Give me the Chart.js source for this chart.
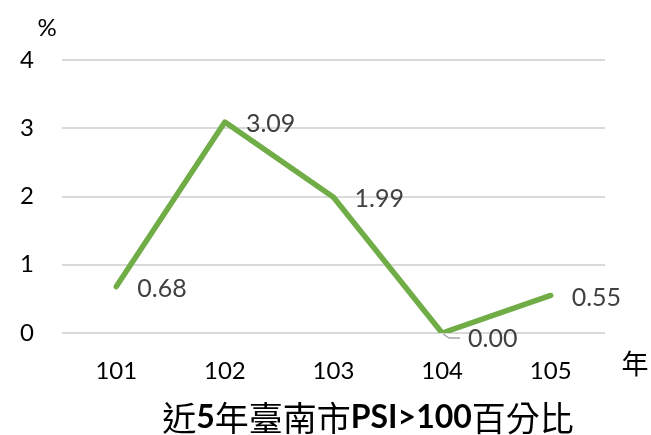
<!DOCTYPE html>
<html><head><meta charset="utf-8">
<script src="https://cdn.jsdelivr.net/npm/chart.js@4"></script>
<style>html,body{margin:0;padding:0;background:#fff}canvas{display:block}</style>
</head><body>
<canvas id="c" width="651" height="435"></canvas>
<script>
const categories = ['101','102','103','104','105'];
const psiPercent = [0.68, 3.09, 1.99, 0.00, 0.55];
const yTicks = [0,1,2,3,4];
const yUnit = '%';
const xUnit = '年';
const titleParts = [['近',0],['5',1],['年臺南市',0],['PSI>100',1],['百分比',0]];

const LATIN = 'Lato, "Liberation Sans", sans-serif';
const CJK = '"Noto Sans CJK TC", "Noto Sans CJK SC", sans-serif';

const extras = {
  id:'extras',
  afterDatasetsDraw(chart){
    const ctx = chart.ctx;
    const meta = chart.getDatasetMeta(0);
    ctx.save();
    ctx.font = '25px ' + LATIN;
    ctx.fillStyle = '#404040';
    ctx.textAlign = 'left';
    ctx.textBaseline = 'middle';
    meta.data.forEach((pt, i) => {
      const v = psiPercent[i];
      let dx = 21, dy = 2;
      if (v === 0) {
        dx = 26; dy = 6;
        ctx.strokeStyle = '#a6a6a6';
        ctx.lineWidth = 1.5;
        ctx.beginPath();
        ctx.moveTo(pt.x + 1, pt.y + 1);
        ctx.lineTo(pt.x + 7, pt.y + 5);
        ctx.lineTo(pt.x + 18, pt.y + 5);
        ctx.stroke();
      }
      ctx.fillText(v.toFixed(2), pt.x + dx, pt.y + dy);
    });
    ctx.restore();
  },
  afterDraw(chart){
    const ctx = chart.ctx;
    ctx.save();
    ctx.fillStyle = '#000';
    ctx.textBaseline = 'middle';
    ctx.textAlign = 'center';
    ctx.font = '24px ' + LATIN;
    ctx.fillText(yUnit, 47, 28);
    ctx.font = '27px ' + CJK;
    ctx.fillText(xUnit, 635, 364);
    // title
    const fonts = ['34px ' + CJK, 'bold 32px ' + LATIN];
    let total = 0;
    const widths = titleParts.map(([t,b]) => { ctx.font = fonts[b]; const w = ctx.measureText(t).width; total += w; return w; });
    let x = 368 - total/2;
    ctx.textAlign = 'left';
    titleParts.forEach(([t,b], i) => {
      ctx.font = fonts[b];
      ctx.fillText(t, x, 418);
      x += widths[i];
    });
    ctx.restore();
  }
};

new Chart(document.getElementById('c'), {
  type:'line',
  data:{ labels: categories, datasets:[{ data: psiPercent, borderColor:'#70AD47', borderWidth:5.5, pointRadius:0, borderCapStyle:'round', borderJoinStyle:'round', tension:0, fill:false }] },
  options:{
    responsive:false, animation:false,
    layout:{ padding:{ left:0, top:60, right:46, bottom:2 } },
    plugins:{ legend:{display:false}, tooltip:{enabled:false} },
    scales:{
      x:{ offset:true, grid:{display:false, drawTicks:false}, border:{display:false},
          ticks:{ color:'#000', font:{family:LATIN, size:24}, padding:24, maxRotation:0 },
          afterFit(s){ s.height = 100; } },
      y:{ min:0, max:4, border:{display:false},
          grid:{ color:'#d9d9d9', lineWidth:2, drawTicks:false },
          afterBuildTicks(s){ s.ticks = yTicks.map(v => ({value:v})); },
          ticks:{ color:'#000', font:{family:LATIN, size:24}, padding:28 },
          afterFit(s){ s.width = 62; } }
    }
  },
  plugins:[extras]
});
</script>
</body></html>
